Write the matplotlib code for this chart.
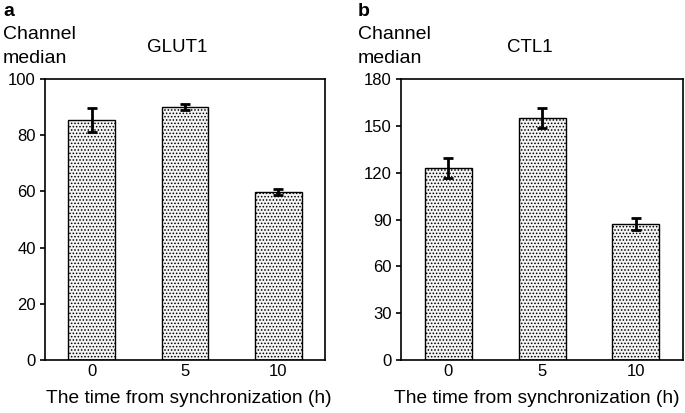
import numpy as np
import matplotlib
matplotlib.use('Agg')
import matplotlib.pyplot as plt
plt.rcParams['font.family'] = ['Liberation Sans', 'DejaVu Sans']
plt.rcParams['hatch.linewidth'] = 1.0

# data
times = ['0', '5', '10']
glut1_mean = [85.3, 90.1, 59.7]
glut1_err = [4.3, 1.0, 1.0]
ctl1_mean = [123.0, 155.0, 87.0]
ctl1_err = [6.7, 6.2, 3.9]

W, H = 685, 413

def px(x, y):
    return x / W, 1 - y / H

def draw_panel(ax, means, errs, ymax, step):
    x = np.arange(len(times))
    ax.bar(x, means, width=0.5, facecolor='#f4f4f4', edgecolor='black',
           linewidth=1.0, hatch='.....', zorder=2)
    for p in ax.patches:
        p.set_hatch_linewidth(0.7)
    ax.errorbar(x, means, yerr=errs, fmt='none', ecolor='black',
                elinewidth=2, capsize=3.3, capthick=2, zorder=3)
    ax.set_xlim(-0.5, 2.5)
    ax.set_ylim(0, ymax)
    ax.set_yticks(np.arange(0, ymax + 1, step))
    ax.set_xticks(x)
    ax.set_xticklabels(times)
    ax.tick_params(axis='y', direction='out', length=3.6, width=1.2,
                   labelsize=12, pad=3)
    ax.tick_params(axis='x', length=0, labelsize=12, pad=3)
    for s in ax.spines.values():
        s.set_linewidth(1.2)

fig = plt.figure(figsize=(W / 100, H / 100), dpi=100)
ax1 = fig.add_axes([45 / W, 53 / H, 280 / W, 281 / H])
ax2 = fig.add_axes([401 / W, 53 / H, 282 / W, 281 / H])

draw_panel(ax1, glut1_mean, glut1_err, 100, 20)
draw_panel(ax2, ctl1_mean, ctl1_err, 180, 30)

for x0, letter, title, tx, xl in [(3, 'a', 'GLUT1', 177, 189),
                                  (358, 'b', 'CTL1', 530, 537)]:
    fig.text(*px(x0, 16), letter, fontsize=14, fontweight='bold',
             ha='left', va='baseline')
    fig.text(*px(x0, 39), 'Channel', fontsize=14, ha='left', va='baseline')
    fig.text(*px(x0, 63), 'median', fontsize=14, ha='left', va='baseline')
    fig.text(*px(tx, 52), title, fontsize=13.5, ha='center', va='baseline')
    fig.text(*px(xl, 403), 'The time from synchronization (h)', fontsize=13.8,
             ha='center', va='baseline')

fig.savefig('out.png', dpi=100)
